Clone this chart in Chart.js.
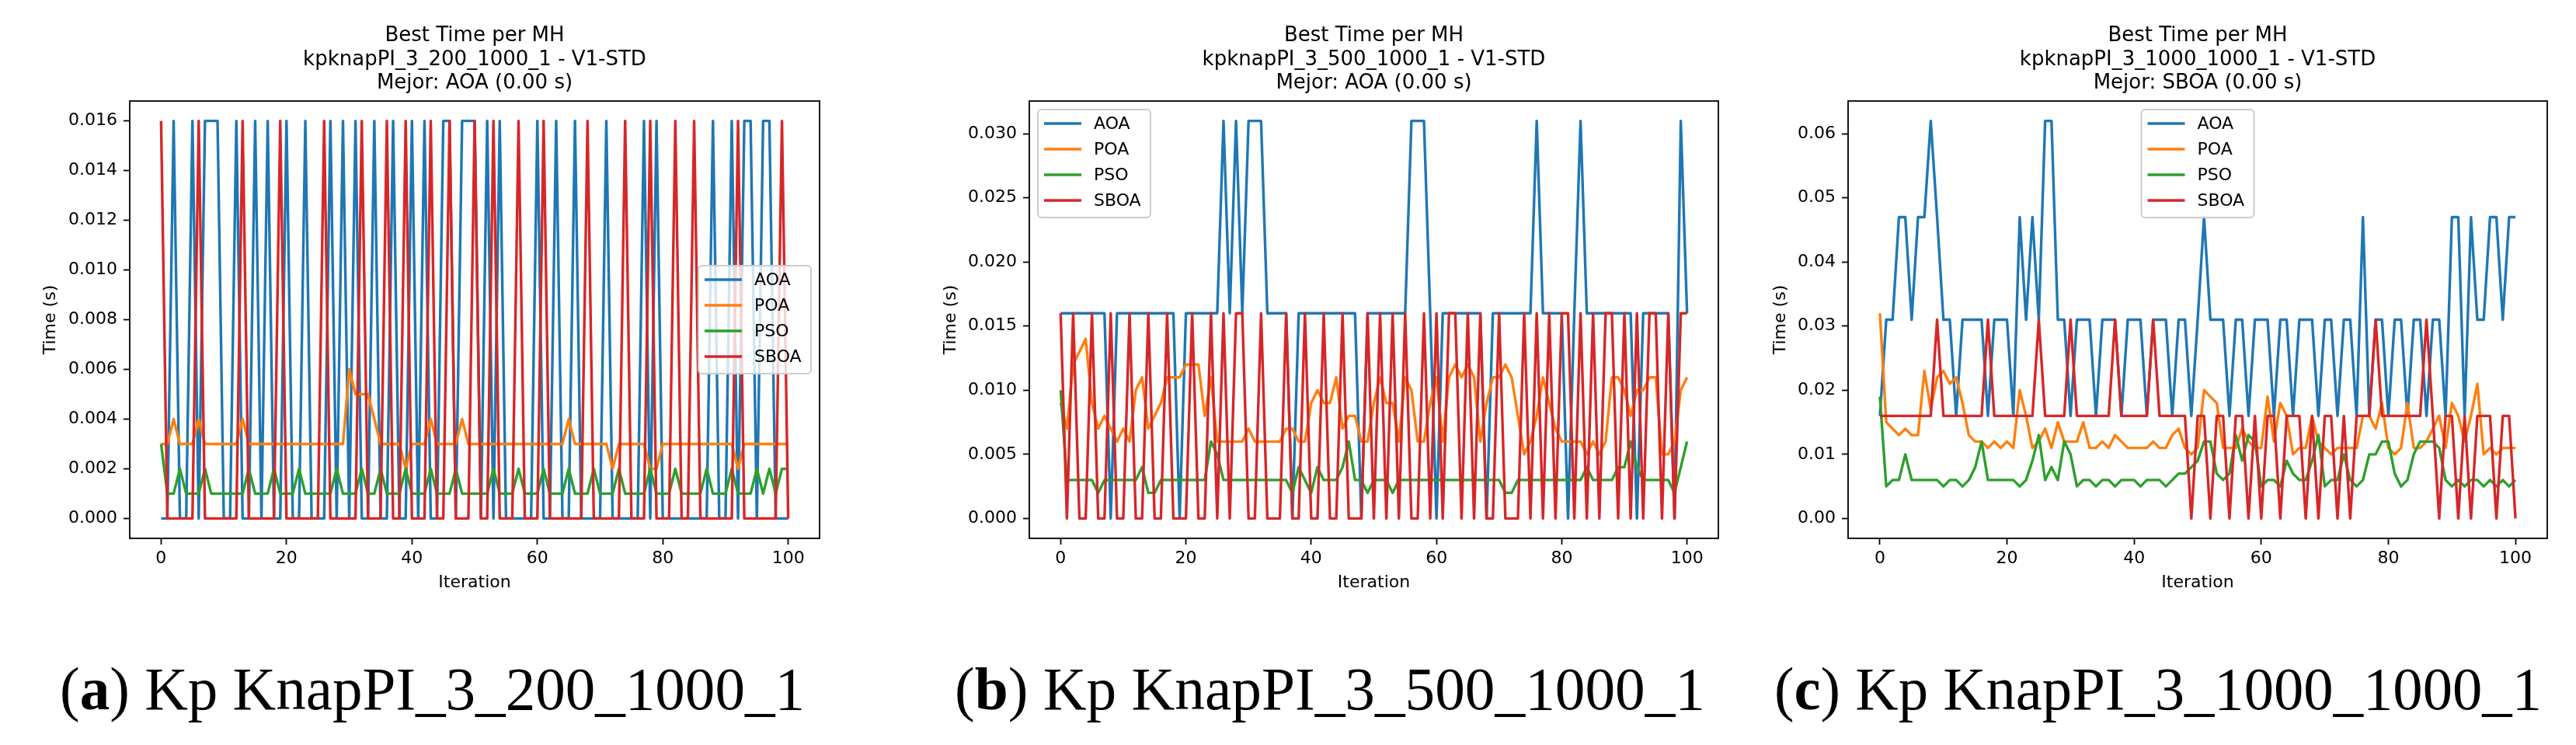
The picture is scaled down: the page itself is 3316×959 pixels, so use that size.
<!DOCTYPE html>
<html>
<head>
<meta charset="utf-8">
<script src="https://cdn.jsdelivr.net/npm/chart.js@4.4.1/dist/chart.umd.min.js"></script>
<style>
    html, body { margin: 0; padding: 0; background: #fff; }
    body { width: 3316px; height: 959px; position: relative; overflow: hidden; }
    canvas { position: absolute; top: 0; }
    .caption {
        position: absolute;
        font-family: "Liberation Serif", serif;
        font-size: 78px;
        line-height: 1;
        white-space: nowrap;
        color: #000;
        transform-origin: 0 0;
    }
</style>
</head>
<body>
<canvas id="chartA" width="1075" height="763" style="left:0px"></canvas>
<canvas id="chartB" width="1082" height="763" style="left:1150px"></canvas>
<canvas id="chartC" width="1069" height="763" style="left:2230px"></canvas>
<div class="caption" id="capA">(<b>a</b>) Kp KnapPI_3_200_1000_1</div>
<div class="caption" id="capB">(<b>b</b>) Kp KnapPI_3_500_1000_1</div>
<div class="caption" id="capC">(<b>c</b>) Kp KnapPI_3_1000_1000_1</div>
<script>
// iteration index 0..100 (x axis)
const iterations = Array.from({length: 101}, (_, i) => i);
const seriesNames = ['AOA', 'POA', 'PSO', 'SBOA'];
const seriesColors = ['#1f77b4', '#ff7f0e', '#2ca02c', '#d62728'];

// --- (a) kpknapPI_3_200_1000_1 ---
const aoaA = [
    0, 0, .016, 0, 0, .016, 0, .016, .016, .016,
    0, 0, .016, 0, 0, .016, 0, .016, 0, 0,
    .016, 0, 0, .016, 0, 0, 0, .016, 0, .016,
    0, .016, 0, 0, .016, 0, 0, .016, 0, 0,
    .016, 0, .016, 0, 0, .016, .016, 0, .016, .016,
    .016, 0, .016, 0, .016, 0, 0, 0, 0, 0,
    .016, 0, 0, .016, 0, 0, .016, 0, 0, 0,
    0, .016, 0, 0, 0, 0, 0, .016, 0, .016,
    0, 0, 0, 0, 0, 0, 0, 0, .016, 0,
    0, .016, 0, .016, .016, 0, .016, .016, 0, 0,
    0
];
const poaA = [
    .003, .003, .004, .003, .003, .003, .004, .003, .003, .003,
    .003, .003, .003, .004, .003, .003, .003, .003, .003, .003,
    .003, .003, .003, .003, .003, .003, .003, .003, .003, .003,
    .006, .005, .005, .005, .004, .003, .003, .003, .003, .002,
    .003, .003, .003, .004, .003, .003, .003, .003, .004, .003,
    .003, .003, .003, .003, .003, .003, .003, .003, .003, .003,
    .003, .003, .003, .003, .003, .004, .003, .003, .003, .003,
    .003, .003, .002, .003, .003, .003, .003, .003, .002, .002,
    .003, .003, .003, .003, .003, .003, .003, .003, .003, .003,
    .003, .003, .002, .003, .003, .003, .003, .003, .003, .003,
    .003
];
const psoA = [
    .003, .001, .001, .002, .001, .001, .001, .002, .001, .001,
    .001, .001, .001, .001, .002, .001, .001, .001, .002, .001,
    .001, .001, .002, .001, .001, .001, .001, .001, .002, .001,
    .001, .001, .002, .001, .001, .002, .001, .001, .001, .002,
    .001, .001, .001, .002, .001, .001, .001, .002, .001, .001,
    .001, .001, .001, .002, .001, .001, .001, .002, .001, .001,
    .001, .002, .001, .001, .001, .002, .001, .001, .001, .002,
    .001, .001, .001, .002, .001, .001, .001, .001, .002, .001,
    .001, .001, .002, .001, .001, .001, .001, .002, .001, .001,
    .001, .002, .001, .001, .001, .002, .001, .002, .001, .002,
    .002
];
const sboaA = [
    .016, 0, 0, 0, 0, 0, .016, 0, 0, 0,
    0, 0, 0, .016, 0, 0, 0, 0, 0, .016,
    0, 0, 0, 0, 0, 0, .016, 0, 0, 0,
    0, 0, .016, 0, 0, 0, .016, 0, 0, .016,
    0, 0, 0, .016, 0, 0, .016, 0, 0, 0,
    .016, 0, 0, .016, 0, 0, 0, .016, 0, 0,
    0, .016, 0, 0, 0, 0, 0, 0, .016, 0,
    0, 0, 0, 0, .016, 0, 0, 0, .016, 0,
    0, 0, .016, 0, 0, .016, 0, 0, 0, 0,
    0, 0, .016, 0, 0, 0, 0, 0, 0, .016,
    0
];

// --- (b) kpknapPI_3_500_1000_1 ---
const aoaB = [
    .016, .016, .016, .016, .016, .016, .016, .016, 0, .016,
    .016, .016, .016, .016, .016, .016, .016, .016, .016, 0,
    .016, .016, .016, .016, .016, .016, .031, .016, .031, .016,
    .031, .031, .031, .016, .016, .016, .016, 0, .016, .016,
    .016, .016, .016, .016, .016, .016, .016, .016, 0, .016,
    .016, .016, .016, .016, .016, .016, .031, .031, .031, .016,
    0, .016, .016, .016, .016, .016, .016, .016, 0, .016,
    .016, .016, .016, .016, .016, .016, .031, .016, .016, .016,
    .016, 0, .016, .031, .016, .016, .016, .016, .016, .016,
    .016, .016, 0, .016, .016, .016, .016, .016, 0, .031,
    .016
];
const poaB = [
    .009, .007, .012, .013, .014, .009, .007, .008, .007, .006,
    .007, .006, .010, .011, .007, .008, .009, .011, .011, .011,
    .012, .012, .012, .008, .011, .006, .006, .006, .006, .006,
    .007, .006, .006, .006, .006, .006, .007, .007, .006, .006,
    .009, .010, .009, .009, .011, .007, .008, .008, .006, .006,
    .009, .011, .009, .009, .006, .011, .010, .006, .006, .009,
    .011, .006, .011, .012, .011, .012, .011, .006, .009, .011,
    .011, .012, .011, .008, .005, .006, .008, .011, .009, .007,
    .006, .006, .006, .006, .005, .006, .005, .006, .011, .011,
    .010, .008, .010, .010, .011, .011, .005, .005, .006, .010,
    .011
];
const psoB = [
    .010, .003, .003, .003, .003, .003, .002, .003, .003, .003,
    .003, .003, .003, .004, .002, .002, .003, .003, .003, .003,
    .003, .003, .003, .003, .006, .005, .003, .003, .003, .003,
    .003, .003, .003, .003, .003, .003, .003, .002, .004, .003,
    .002, .004, .003, .003, .003, .004, .006, .003, .003, .002,
    .003, .003, .003, .002, .003, .003, .003, .003, .003, .003,
    .003, .003, .003, .003, .003, .003, .003, .003, .003, .003,
    .003, .002, .002, .003, .003, .003, .003, .003, .003, .003,
    .003, .003, .003, .003, .004, .003, .003, .003, .003, .004,
    .004, .006, .004, .003, .003, .003, .003, .003, .002, .004,
    .006
];
const sboaB = [
    .016, 0, .016, 0, 0, .016, 0, 0, .016, 0,
    0, .016, 0, 0, .016, 0, 0, .016, 0, 0,
    0, .016, 0, 0, .016, 0, .016, 0, .016, .016,
    0, 0, .016, 0, 0, 0, .016, 0, 0, .016,
    0, 0, .016, 0, 0, .016, 0, 0, 0, .016,
    0, .016, 0, .016, 0, .016, 0, 0, .016, 0,
    .016, 0, .016, .016, 0, .016, 0, .016, 0, 0,
    .016, 0, 0, 0, .016, 0, .016, 0, .016, 0,
    .016, .016, 0, .016, 0, .016, 0, .016, .016, 0,
    .016, 0, .016, 0, .016, .016, 0, .016, 0, .016,
    .016
];

// --- (c) kpknapPI_3_1000_1000_1 ---
const aoaC = [
    .016, .031, .031, .047, .047, .031, .047, .047, .062, .047,
    .031, .031, .016, .031, .031, .031, .031, .016, .031, .031,
    .031, .016, .047, .031, .047, .031, .062, .062, .031, .031,
    .016, .031, .031, .031, .016, .031, .031, .031, .016, .031,
    .031, .031, .016, .031, .031, .031, .016, .031, .031, .016,
    .031, .047, .031, .031, .031, .016, .031, .031, .016, .031,
    .031, .031, .016, .031, .031, .016, .031, .031, .031, .016,
    .031, .031, .016, .031, .031, .016, .047, .016, .031, .031,
    .016, .031, .031, .016, .031, .031, .016, .031, .031, .016,
    .047, .047, .016, .047, .031, .031, .047, .047, .031, .047,
    .047
];
const poaC = [
    .032, .015, .014, .013, .014, .013, .013, .023, .017, .022,
    .023, .021, .022, .018, .013, .012, .012, .011, .012, .011,
    .012, .011, .020, .016, .011, .012, .014, .011, .015, .012,
    .012, .012, .015, .011, .011, .012, .011, .013, .012, .011,
    .011, .011, .011, .012, .011, .011, .013, .014, .011, .010,
    .011, .020, .019, .018, .011, .011, .011, .014, .012, .011,
    .011, .019, .012, .018, .016, .010, .011, .011, .016, .012,
    .011, .010, .011, .011, .011, .011, .016, .016, .014, .018,
    .011, .010, .011, .018, .011, .011, .012, .014, .016, .011,
    .018, .016, .012, .016, .021, .010, .011, .010, .011, .011,
    .011
];
const psoC = [
    .019, .005, .006, .006, .010, .006, .006, .006, .006, .006,
    .005, .006, .006, .005, .006, .008, .012, .006, .006, .006,
    .006, .006, .005, .006, .009, .013, .006, .008, .006, .012,
    .010, .005, .006, .006, .005, .006, .006, .005, .006, .006,
    .006, .005, .006, .006, .006, .005, .006, .007, .007, .008,
    .009, .012, .012, .007, .006, .007, .013, .009, .013, .012,
    .005, .006, .006, .005, .009, .007, .006, .006, .009, .013,
    .005, .006, .006, .010, .006, .005, .006, .010, .010, .012,
    .012, .007, .005, .006, .010, .012, .012, .012, .011, .006,
    .005, .006, .005, .006, .006, .005, .006, .005, .006, .005,
    .006
];
const sboaC = [
    .016, .016, .016, .016, .016, .016, .016, .016, .016, .031,
    .016, .016, .016, .016, .016, .016, .016, .031, .016, .016,
    .016, .016, .016, .016, .016, .031, .016, .016, .016, .016,
    .031, .016, .016, .016, .016, .016, .016, .031, .016, .016,
    .016, .016, .016, .031, .016, .016, .016, .016, .016, 0,
    .016, .016, 0, .016, .016, 0, .016, .016, 0, .016,
    0, .016, .016, 0, .016, .016, .016, 0, .016, 0,
    .016, .016, 0, .016, 0, .016, .016, .016, .031, .016,
    .016, .016, .016, .016, .016, .016, .031, .016, 0, .016,
    .016, 0, .016, 0, .016, .016, .016, 0, .016, .016,
    0
];

// y tick steps / limits (matplotlib 5% margins)
const yStepA = 0.002, yStepB = 0.005, yStepC = 0.01;

Chart.defaults.font.family = '"DejaVu Sans", sans-serif';
Chart.defaults.color = '#000';

// plot frame on all four sides + matplotlib style legend inside the axes
const frameLegend = {
    id: 'frameLegend',
    afterDatasetsDraw(chart, args, opts) {
        const ctx = chart.ctx;
        const a = chart.chartArea;
        ctx.save();
        ctx.strokeStyle = '#000';
        ctx.lineWidth = 1.8;
        ctx.strokeRect(a.left, a.top, a.right - a.left, a.bottom - a.top);

        const w = 145, h = 139, pad = 11;
        let x, y;
        if (opts.loc === 'center right') {
            x = a.right - pad - w;
            y = (a.top + a.bottom) / 2 - h / 2;
        } else if (opts.loc === 'upper left') {
            x = a.left + pad;
            y = a.top + pad;
        } else {
            x = (a.left + a.right) / 2 - w / 2;
            y = a.top + pad;
        }
        ctx.beginPath();
        ctx.roundRect(x, y, w, h, 5);
        ctx.fillStyle = 'rgba(255,255,255,0.8)';
        ctx.fill();
        ctx.strokeStyle = '#cccccc';
        ctx.lineWidth = 2;
        ctx.stroke();

        ctx.font = '22px "DejaVu Sans"';
        ctx.textBaseline = 'middle';
        seriesNames.forEach((name, k) => {
            const cy = y + 18 + 33 * k;
            ctx.strokeStyle = seriesColors[k];
            ctx.lineWidth = 3.4;
            ctx.beginPath();
            ctx.moveTo(x + 8, cy);
            ctx.lineTo(x + 56, cy);
            ctx.stroke();
            ctx.fillStyle = '#000';
            ctx.fillText(name, x + 72, cy + 1);
        });
        ctx.restore();
    }
};

function makeChart(id, p) {
    const datasets = p.series.map((vals, k) => ({
        label: seriesNames[k],
        data: iterations.map((it, j) => ({x: it, y: vals[j]})),
        borderColor: seriesColors[k],
        backgroundColor: seriesColors[k],
        borderWidth: 3.4,
        borderJoinStyle: 'round',
        pointRadius: 0,
        tension: 0,
        fill: false,
        order: 4 - k
    }));
    return new Chart(document.getElementById(id), {
        type: 'line',
        data: {datasets: datasets},
        plugins: [frameLegend],
        options: {
            responsive: false,
            animation: false,
            layout: {padding: {left: 0, right: 20, top: 0, bottom: 0}},
            plugins: {
                legend: {display: false},
                tooltip: {enabled: false},
                title: {
                    display: true,
                    fullSize: false,
                    text: p.title,
                    color: '#000',
                    font: {size: 26, weight: 'normal', lineHeight: 1.18},
                    padding: {top: 31, bottom: 7}
                },
                frameLegend: {loc: p.legendLoc}
            },
            scales: {
                x: {
                    type: 'linear',
                    min: -5,
                    max: 105,
                    afterFit: (s) => { s.height = 70; },
                    ticks: {stepSize: 20, includeBounds: false, maxRotation: 0, autoSkip: false,
                        padding: 5, font: {size: 22}, color: '#000'},
                    grid: {drawOnChartArea: false, tickLength: 8, tickWidth: 1.8, tickColor: '#000'},
                    border: {display: false},
                    title: {display: true, text: 'Iteration', font: {size: 22}, color: '#000',
                        padding: {top: 0, bottom: 0}}
                },
                y: {
                    min: p.yMin,
                    max: p.yMax,
                    afterFit: (s) => { s.width = p.yWidth; },
                    ticks: {stepSize: p.yStep, includeBounds: false, autoSkip: false,
                        padding: 8, font: {size: 22}, color: '#000',
                        callback: (v) => v.toFixed(p.decimals)},
                    grid: {drawOnChartArea: false, tickLength: 8, tickWidth: 1.8, tickColor: '#000'},
                    border: {display: false},
                    title: {display: true, text: 'Time (s)', font: {size: 22}, color: '#000',
                        padding: {top: p.yTitlePad, bottom: 0}}
                }
            }
        }
    });
}

makeChart('chartA', {
    series: [aoaA, poaA, psoA, sboaA],
    title: ['Best Time per MH', 'kpknapPI_3_200_1000_1 - V1-STD', 'Mejor: AOA (0.00 s)'],
    yMin: -0.0008, yMax: 0.0168, yStep: yStepA, decimals: 3,
    yWidth: 167, yTitlePad: 52, legendLoc: 'center right'
});
makeChart('chartB', {
    series: [aoaB, poaB, psoB, sboaB],
    title: ['Best Time per MH', 'kpknapPI_3_500_1000_1 - V1-STD', 'Mejor: AOA (0.00 s)'],
    yMin: -0.00155, yMax: 0.03255, yStep: yStepB, decimals: 3,
    yWidth: 175, yTitlePad: 61, legendLoc: 'upper left'
});
makeChart('chartC', {
    series: [aoaC, poaC, psoC, sboaC],
    title: ['Best Time per MH', 'kpknapPI_3_1000_1000_1 - V1-STD', 'Mejor: SBOA (0.00 s)'],
    yMin: -0.0031, yMax: 0.0651, yStep: yStepC, decimals: 2,
    yWidth: 149, yTitlePad: 49, legendLoc: 'upper center'
});

// captions: left edge, right edge, baseline as in the reference figure
function placeCaption(id, left, right, baseline) {
    const el = document.getElementById(id);
    const mark = document.createElement('span');
    mark.style.display = 'inline-block';
    mark.style.width = '0px';
    mark.style.height = '0px';
    el.appendChild(mark);
    el.style.left = '0px';
    el.style.top = '0px';
    const box = el.getBoundingClientRect();
    const base = mark.getBoundingClientRect().top - box.top;
    el.style.left = left + 'px';
    el.style.top = (baseline - base) + 'px';
    el.style.transform = 'scaleX(' + ((right - left) / box.width) + ')';
}
placeCaption('capA', 77, 1036, 913);
placeCaption('capB', 1229, 2195, 913);
placeCaption('capC', 2284, 3272, 913);
</script>
</body>
</html>
